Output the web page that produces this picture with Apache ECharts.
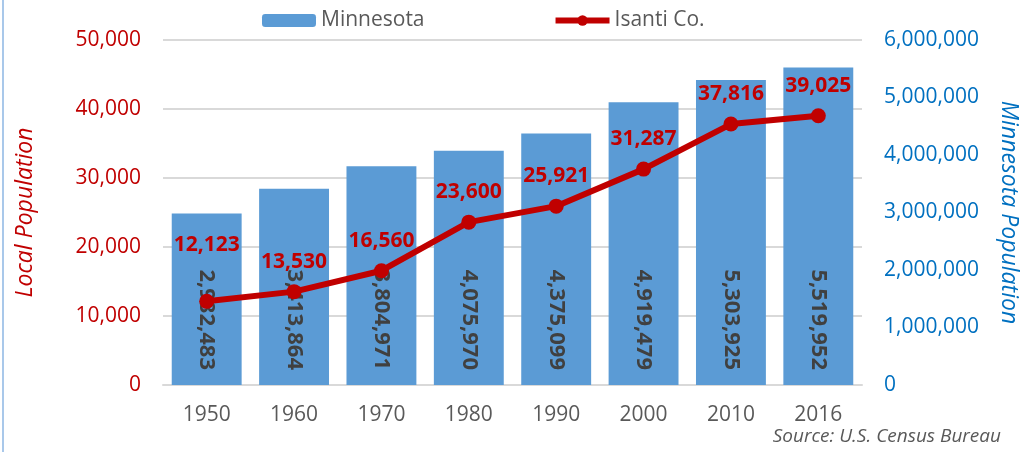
<!DOCTYPE html>
<html>
<head>
<meta charset="utf-8">
<style>
    html, body { margin: 0; padding: 0; background: #fff; }
    #chart { width: 1026px; height: 452px; }
</style>
<script src="https://cdn.jsdelivr.net/npm/echarts@6/dist/echarts.min.js"></script>
</head>
<body>
<div id="chart"></div>
<script>
var years = ['1950', '1960', '1970', '1980', '1990', '2000', '2010', '2016'];
var minnesota = [2982483, 3413864, 3804971, 4075970, 4375099, 4919479, 5303925, 5519952];
var isanti = [12123, 13530, 16560, 23600, 25921, 31287, 37816, 39025];

var fontFamily = '"Open Sans", sans-serif';

function fmt(v) {
    return v.toLocaleString('en-US');
}

function genLineData() {
    var data = [];
    for (let i = 0; i < isanti.length; i++) {
        var item = { value: isanti[i] };
        // the first label sits a little higher in the original
        if (i === 0) {
            item.label = { offset: [0, -26] };
        }
        data.push(item);
    }
    return data;
}

var chart = echarts.init(document.getElementById('chart'));

var option = {
    animation: false,
    textStyle: { fontFamily: fontFamily },
    title: {
        text: 'Source: U.S. Census Bureau',
        right: 20,
        bottom: 1,
        textStyle: {
            fontFamily: fontFamily,
            fontSize: 19,
            fontStyle: 'italic',
            fontWeight: 'normal',
            color: '#595959'
        }
    },
    legend: {
        top: 5,
        left: 257,
        itemGap: 128,
        itemWidth: 54,
        itemHeight: 13,
        textStyle: { fontFamily: fontFamily, fontSize: 21, color: '#595959' },
        data: [
            { name: 'Minnesota' },
            { name: 'Isanti Co.', lineStyle: { width: 6 }, itemStyle: { color: '#c00000' } }
        ]
    },
    grid: {
        left: 163,
        right: 164,
        top: 40,
        bottom: 67,
        outerBoundsMode: 'none'
    },
    xAxis: {
        type: 'category',
        data: years,
        axisTick: { show: false },
        axisLine: { lineStyle: { color: '#d9d9d9', width: 2 } },
        axisLabel: { color: '#595959', fontSize: 21, margin: 20, fontFamily: fontFamily }
    },
    yAxis: [{
        type: 'value',
        min: 0,
        max: 50000,
        interval: 10000,
        name: 'Local Population',
        nameLocation: 'middle',
        nameGap: 126,
        nameTextStyle: { color: '#c00000', fontSize: 23, fontStyle: 'italic', fontFamily: fontFamily },
        axisLabel: {
            color: '#c00000',
            fontSize: 21,
            margin: 22,
            fontFamily: fontFamily,
            formatter: function (v) { return fmt(v); }
        },
        splitLine: { lineStyle: { color: '#d9d9d9', width: 2 } }
    }, {
        type: 'value',
        min: 0,
        max: 6000000,
        interval: 1000000,
        position: 'right',
        name: 'Minnesota Population',
        nameLocation: 'middle',
        nameRotate: -90,
        nameGap: 135,
        nameTextStyle: { color: '#0070c0', fontSize: 23, fontStyle: 'italic', fontFamily: fontFamily },
        axisLabel: {
            color: '#0070c0',
            fontSize: 21,
            margin: 22,
            fontFamily: fontFamily,
            formatter: function (v) { return fmt(v); }
        },
        splitLine: { show: false }
    }],
    graphic: [{
        type: 'rect',
        left: 2,
        top: 0,
        shape: { width: 2, height: 452 },
        style: { fill: '#a9c8ea' }
    }],
    series: [{
        name: 'Minnesota',
        type: 'bar',
        yAxisIndex: 1,
        data: minnesota,
        barCategoryGap: '20%',
        itemStyle: { color: '#5b9bd5' },
        label: {
            show: true,
            position: 'insideBottom',
            distance: 15,
            rotate: -90,
            align: 'right',
            verticalAlign: 'middle',
            color: '#404040',
            fontSize: 22,
            fontWeight: 'bold',
            fontFamily: fontFamily,
            formatter: function (p) { return fmt(p.value); }
        }
    }, {
        name: 'Isanti Co.',
        type: 'line',
        yAxisIndex: 0,
        z: 5,
        data: genLineData(),
        symbol: 'circle',
        symbolSize: 15,
        lineStyle: { color: '#c00000', width: 6 },
        itemStyle: { color: '#c00000' },
        label: {
            show: true,
            position: 'top',
            distance: 12,
            color: '#c00000',
            fontSize: 21,
            fontWeight: 'bold',
            fontFamily: fontFamily,
            formatter: function (p) { return fmt(p.value); }
        }
    }]
};

chart.setOption(option);
window.onresize = function () {
    chart.resize();
};
</script>
</body>
</html>
